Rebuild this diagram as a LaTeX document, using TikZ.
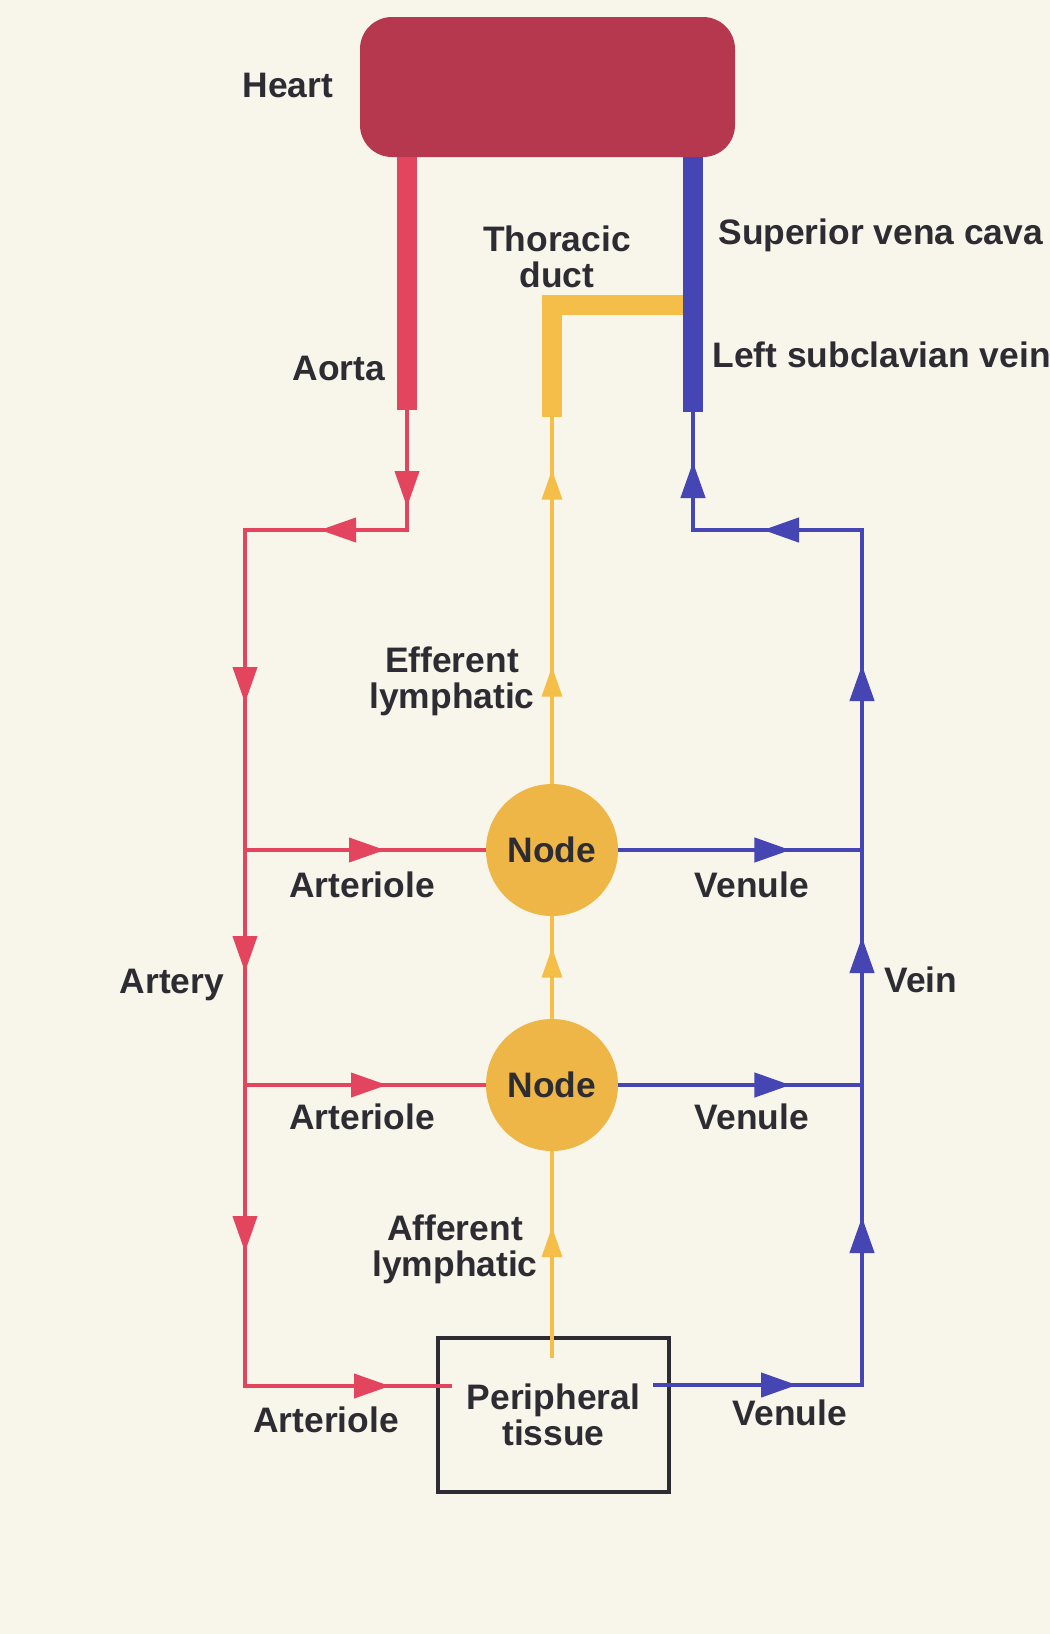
\documentclass[tikz,border=0pt]{standalone}
\usepackage{fontspec}
\setmainfont{Liberation Sans}
\usetikzlibrary{arrows.meta,decorations.markings}
\definecolor{bg}{HTML}{F8F5EA}
\definecolor{heartc}{HTML}{B5384F}
\definecolor{artred}{HTML}{E3445E}
\definecolor{veinblue}{HTML}{4545B3}
\definecolor{lymph}{HTML}{F4BE48}
\definecolor{nodec}{HTML}{EEB646}
\definecolor{txt}{HTML}{2E2C33}
\tikzset{
  rtip/.tip={Triangle[length=18pt,width=12pt,color=artred]},
  btip/.tip={Triangle[length=18pt,width=12pt,color=veinblue]},
  ytip/.tip={Triangle[length=15pt,width=10pt,color=lymph]},
  marks/.style={postaction={decorate,decoration={markings,#1}}},
  lbl/.style={text=txt,inner sep=0pt,text height=12.7pt,text depth=0pt},
  lbltwo/.style={text=txt,inner sep=0pt,align=center},
  redthin/.style={draw=artred,line width=2pt},
  bluethin/.style={draw=veinblue,line width=2.2pt},
  ythin/.style={draw=lymph,line width=1.6pt},
  vessel/.style={line width=10pt},
  lnode/.style={circle,fill=nodec,minimum size=66pt,inner sep=0pt,text=txt},
}
\begin{document}
\begin{tikzpicture}[x=0.5pt,y=-0.5pt,font=\fontsize{17.7pt}{18.2pt}\selectfont\bfseries]
\fill[bg] (0,0) rectangle (1050,1634);
\useasboundingbox (0,0) rectangle (1050,1634);

% nodes
\node[rounded corners=16pt,fill=heartc,minimum width=187.5pt,minimum height=70pt,inner sep=0pt] (heart) at (547.5,87) {};
\node[lnode] (node1) at (552,850) {Node};
\node[lnode] (node2) at (552,1085) {Node};
\node[draw=txt,line width=2pt,minimum width=115.5pt,minimum height=77pt,inner sep=0pt,text=txt,align=center] (tissue) at (553.5,1415) {Peripheral\\tissue};

% coordinates
\coordinate (aoB) at (407,410);
\coordinate (rc1) at (407,530);
\coordinate (rc2) at (245,530);
\coordinate (a1) at (245,850);
\coordinate (a2) at (245,1085);
\coordinate (a3) at (245,1386);
\coordinate (artend) at (452,1386);
\coordinate (vcB) at (693,412);
\coordinate (bc1) at (693,530);
\coordinate (bc2) at (862,530);
\coordinate (v1) at (862,850);
\coordinate (v2) at (862,1085);
\coordinate (v3) at (862,1385);
\coordinate (venst) at (653,1385);
\coordinate (tin) at (552,1358);
\coordinate (ydB) at (552,417);
\coordinate (ydJ) at (693,305);

% lymph
\draw[lymph,vessel] (ydB) |- (ydJ);
\draw[ythin,marks={mark=at position 58.5pt with {\arrow{ytip}},mark=at position 157pt with {\arrow{ytip}}}] (node1.north) -- (ydB);
\draw[ythin,marks={mark=at position 35.5pt with {\arrow{ytip}}}] (node2.north) -- (node1.south);
\draw[ythin,marks={mark=at position 65.5pt with {\arrow{ytip}}}] (tin) -- (node2.south);

% aorta and arteries
\draw[artred,vessel] (heart.south -| aoB) -- (aoB);
\draw[redthin,line join=miter,marks={
  mark=at position 48.5pt with {\arrow{rtip}},
  mark=at position 103.5pt with {\arrow{rtip}},
  mark=at position 227.5pt with {\arrow{rtip}},
  mark=at position 362pt with {\arrow{rtip}},
  mark=at position 502pt with {\arrow{rtip}},
  mark=at position 641.5pt with {\arrow{rtip}}}]
  (aoB) -- (rc1) -- (rc2) -- (a1) -- (a2) -- (a3) -- (artend);
\draw[redthin,marks={mark=at position 70pt with {\arrow{rtip}}}] (a1) -- (node1.west);
\draw[redthin,marks={mark=at position 71pt with {\arrow{rtip}}}] (a2) -- (node2.west);

% veins
\draw[veinblue,vessel] (heart.south -| vcB) -- (vcB);
\draw[bluethin,line join=miter,marks={
  mark=at position 72pt with {\arrow{btip}},
  mark=at position 188.5pt with {\arrow{btip}},
  mark=at position 328.5pt with {\arrow{btip}},
  mark=at position 464.5pt with {\arrow{btip}},
  mark=at position 581.5pt with {\arrow{btip}},
  mark=at position 650.5pt with {\arrow{btip}}}]
  (venst) -- (v3) -- (v2) -- (v1) -- (bc2) -- (bc1) -- (vcB);
\draw[bluethin,marks={mark=at position 86pt with {\arrow{btip}}}] (node1.east) -- (v1);
\draw[bluethin,marks={mark=at position 86pt with {\arrow{btip}}}] (node2.east) -- (v2);

% labels
\node[lbl] (lheart) at (288,85) {Heart};
\node[lbltwo,anchor=north] (lthor) at (557,225) {Thoracic\\duct};
\node[lbl,anchor=west] (lsvc) at (718,232) {Superior vena cava};
\node[lbl,anchor=west] (lsub) at (712,355) {Left subclavian vein};
\node[lbl] (laorta) at (339,368) {Aorta};
\node[lbltwo,anchor=north] (leff) at (452,646) {Efferent\\lymphatic};
\node[lbl] (lart1) at (362,885) {Arteriole};
\node[lbl] (lven1) at (752,885) {Venule};
\node[lbl] (lartery) at (172,981) {Artery};
\node[lbl] (lvein) at (921,980) {Vein};
\node[lbl] (lart2) at (362,1117) {Arteriole};
\node[lbl] (lven2) at (752,1117) {Venule};
\node[lbltwo,anchor=north] (laff) at (455,1214) {Afferent\\lymphatic};
\node[lbl] (lart3) at (326,1420) {Arteriole};
\node[lbl] (lven3) at (790,1413) {Venule};
\end{tikzpicture}
\end{document}
